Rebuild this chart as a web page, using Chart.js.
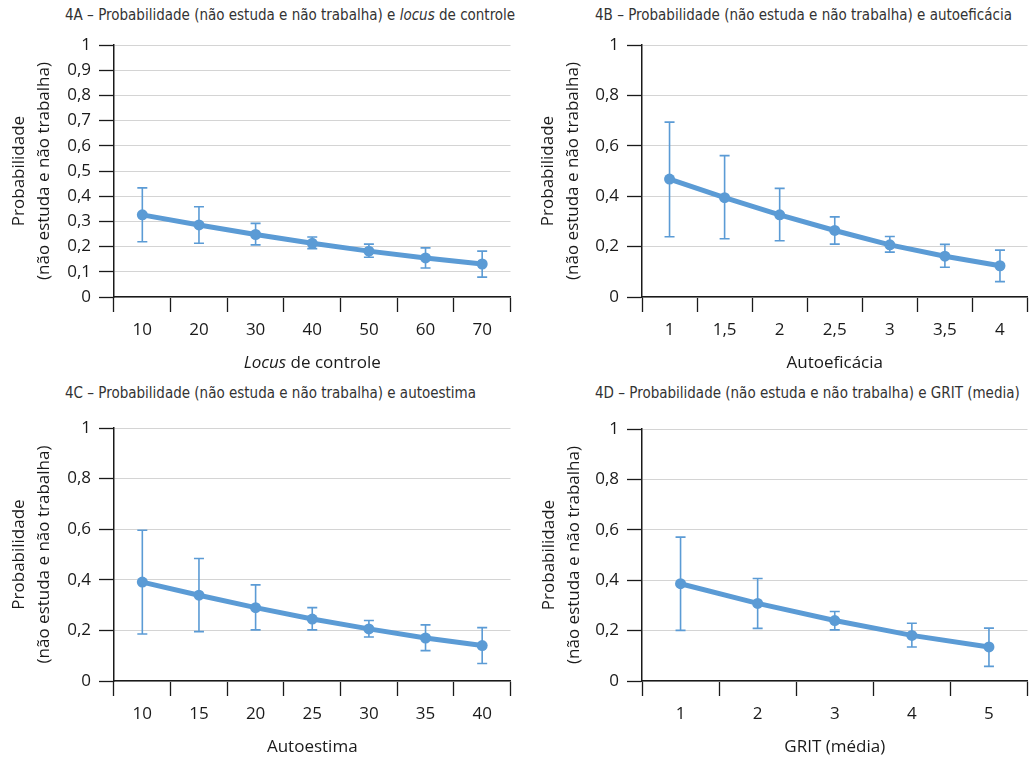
<!DOCTYPE html>
<html>
<head>
<meta charset="utf-8">
<script src="https://cdn.jsdelivr.net/npm/chart.js@4.4.1/dist/chart.umd.min.js"></script>
<style>
  body { margin: 0; background: #fff; width: 1033px; height: 757px; overflow: hidden; position: relative; }
  .panel { position: absolute; }
  .ttl {
    position: absolute; white-space: nowrap; line-height: 1;
    font-family: 'Liberation Sans Narrow', 'DejaVu Sans Condensed', sans-serif;
    font-stretch: condensed; font-size: 15px; color: #333;
  }
</style>
</head>
<body>
<div class="ttl" style="left:65px;top:8px">4A – Probabilidade (não estuda e não trabalha) e <i>locus</i> de controle</div>
<div class="ttl" style="left:595px;top:8px">4B – Probabilidade (não estuda e não trabalha) e autoeficácia</div>
<div class="ttl" style="left:65px;top:386px">4C – Probabilidade (não estuda e não trabalha) e autoestima</div>
<div class="ttl" style="left:595px;top:386px">4D – Probabilidade (não estuda e não trabalha) e GRIT (media)</div>

<div class="panel" style="left:0;top:0;width:516px;height:380px"><canvas id="c4a"></canvas></div>
<div class="panel" style="left:520px;top:0;width:513px;height:380px"><canvas id="c4b"></canvas></div>
<div class="panel" style="left:0;top:380px;width:516px;height:384px"><canvas id="c4c"></canvas></div>
<div class="panel" style="left:520px;top:380px;width:513px;height:384px"><canvas id="c4d"></canvas></div>

<script>
// dados
const locusCats = ['10', '20', '30', '40', '50', '60', '70'];
const locusProb = [0.326, 0.286, 0.248, 0.213, 0.182, 0.155, 0.131];
const locusLow  = [0.219, 0.213, 0.207, 0.192, 0.158, 0.115, 0.079];
const locusHigh = [0.433, 0.358, 0.292, 0.238, 0.210, 0.195, 0.182];

const autoefCats = ['1', '1,5', '2', '2,5', '3', '3,5', '4'];
const autoefProb = [0.468, 0.394, 0.326, 0.264, 0.207, 0.162, 0.124];
const autoefLow  = [0.239, 0.231, 0.223, 0.210, 0.178, 0.118, 0.061];
const autoefHigh = [0.694, 0.561, 0.431, 0.318, 0.240, 0.209, 0.186];

const autoestCats = ['10', '15', '20', '25', '30', '35', '40'];
const autoestProb = [0.391, 0.339, 0.290, 0.245, 0.206, 0.170, 0.140];
const autoestLow  = [0.186, 0.195, 0.202, 0.202, 0.174, 0.120, 0.069];
const autoestHigh = [0.596, 0.484, 0.380, 0.290, 0.239, 0.222, 0.211];

const gritCats = ['1', '2', '3', '4', '5'];
const gritProb = [0.386, 0.308, 0.240, 0.181, 0.135];
const gritLow  = [0.201, 0.209, 0.203, 0.135, 0.058];
const gritHigh = [0.571, 0.407, 0.276, 0.229, 0.210];

const yTicksFine   = ['0', '0,1', '0,2', '0,3', '0,4', '0,5', '0,6', '0,7', '0,8', '0,9', '1'];
const yTicksCoarse = ['0', '0,2', '0,4', '0,6', '0,8', '1'];

const azul = '#5b9bd5';
const escuro = '#1a1a1a';
const fonte = "'Open Sans', 'Noto Sans', sans-serif";

// barras de erro desenhadas antes da linha
const errorBars = {
    id: 'errorBars',
    beforeDatasetsDraw(chart, args, opts) {
        const ctx = chart.ctx;
        const y = chart.scales.y;
        const meta = chart.getDatasetMeta(0);
        ctx.save();
        ctx.strokeStyle = azul;
        ctx.lineWidth = 1.6;
        meta.data.forEach((pt, i) => {
            const yl = y.getPixelForValue(opts.low[i]);
            const yh = y.getPixelForValue(opts.high[i]);
            ctx.beginPath();
            ctx.moveTo(pt.x, yl); ctx.lineTo(pt.x, yh);
            ctx.moveTo(pt.x - 5, yl); ctx.lineTo(pt.x + 5, yl);
            ctx.moveTo(pt.x - 5, yh); ctx.lineTo(pt.x + 5, yh);
            ctx.stroke();
        });
        ctx.restore();
    }
};

// título do eixo x com "Locus" em itálico
const italicTitle = {
    id: 'italicTitle',
    afterDraw(chart, args, opts) {
        if (!opts.parts) return;
        const ctx = chart.ctx;
        const xs = chart.scales.x;
        ctx.save();
        ctx.fillStyle = escuro;
        ctx.textBaseline = 'middle';
        const widths = opts.parts.map(p => {
            ctx.font = (p.italic ? 'italic ' : '') + '17px ' + fonte;
            return ctx.measureText(p.text).width;
        });
        const total = widths.reduce((a, b) => a + b, 0);
        let x = (xs.left + xs.right) / 2 - total / 2;
        opts.parts.forEach((p, i) => {
            ctx.font = (p.italic ? 'italic ' : '') + '17px ' + fonte;
            ctx.fillText(p.text, x, opts.y);
            x += widths[i];
        });
        ctx.restore();
    }
};

function painel(id, cats, prob, low, high, yLabels, step, geo, xTitle, parts) {
    new Chart(document.getElementById(id), {
        type: 'line',
        data: {
            labels: cats,
            datasets: [{
                data: prob,
                borderColor: azul,
                backgroundColor: azul,
                borderWidth: 5,
                pointRadius: 5.5,
                pointBorderWidth: 0,
                pointBackgroundColor: azul,
                tension: 0
            }]
        },
        options: {
            responsive: true,
            maintainAspectRatio: false,
            animation: false,
            layout: { padding: { top: geo.top, right: geo.right, left: 0, bottom: 0 } },
            plugins: {
                legend: { display: false },
                tooltip: { enabled: false },
                errorBars: { low: low, high: high },
                italicTitle: { parts: parts, y: geo.xTitleY }
            },
            scales: {
                x: {
                    offset: true,
                    grid: { offset: true, drawOnChartArea: false, tickLength: 15, tickColor: escuro, tickWidth: 1.3 },
                    border: { color: escuro, width: 1.5 },
                    ticks: { color: escuro, padding: 8, font: { family: fonte, size: 17 } },
                    title: {
                        display: !!xTitle, text: xTitle, color: escuro,
                        font: { family: fonte, size: 17, lineHeight: 1.45 },
                        padding: { top: 0, bottom: 5 }
                    },
                    afterFit(s) { s.height = 83; }
                },
                y: {
                    min: 0, max: 1,
                    ticks: {
                        stepSize: step, color: escuro, padding: 8,
                        font: { family: fonte, size: 17 },
                        callback: (v, i) => yLabels[i]
                    },
                    grid: { color: '#d4d4d4', lineWidth: 1, tickLength: 15, tickColor: escuro, tickWidth: 1.3 },
                    border: { color: escuro, width: 1.5 },
                    title: {
                        display: true,
                        text: ['Probabilidade', '(não estuda e não trabalha)'],
                        color: escuro,
                        font: { family: fonte, size: 17, lineHeight: 1.45 },
                        padding: { top: geo.yTitlePad, bottom: 0 }
                    },
                    afterFit(s) { s.width = geo.yWidth; }
                }
            }
        },
        plugins: [errorBars, italicTitle]
    });
}

painel('c4a', locusCats, locusProb, locusLow, locusHigh, yTicksFine, 0.1,
    { top: 45, right: 5, yWidth: 114, yTitlePad: 7, xTitleY: 363 }, '',
    [{ text: 'Locus', italic: true }, { text: ' de controle', italic: false }]);
painel('c4b', autoefCats, autoefProb, autoefLow, autoefHigh, yTicksCoarse, 0.2,
    { top: 45, right: 0, yWidth: 122, yTitlePad: 16, xTitleY: 0 }, 'Autoeficácia', null);
painel('c4c', autoestCats, autoestProb, autoestLow, autoestHigh, yTicksCoarse, 0.2,
    { top: 48, right: 4, yWidth: 114, yTitlePad: 7, xTitleY: 0 }, 'Autoestima', null);
painel('c4d', gritCats, gritProb, gritLow, gritHigh, yTicksCoarse, 0.2,
    { top: 49, right: 0, yWidth: 122, yTitlePad: 17, xTitleY: 0 }, 'GRIT (média)', null);
</script>
</body>
</html>
